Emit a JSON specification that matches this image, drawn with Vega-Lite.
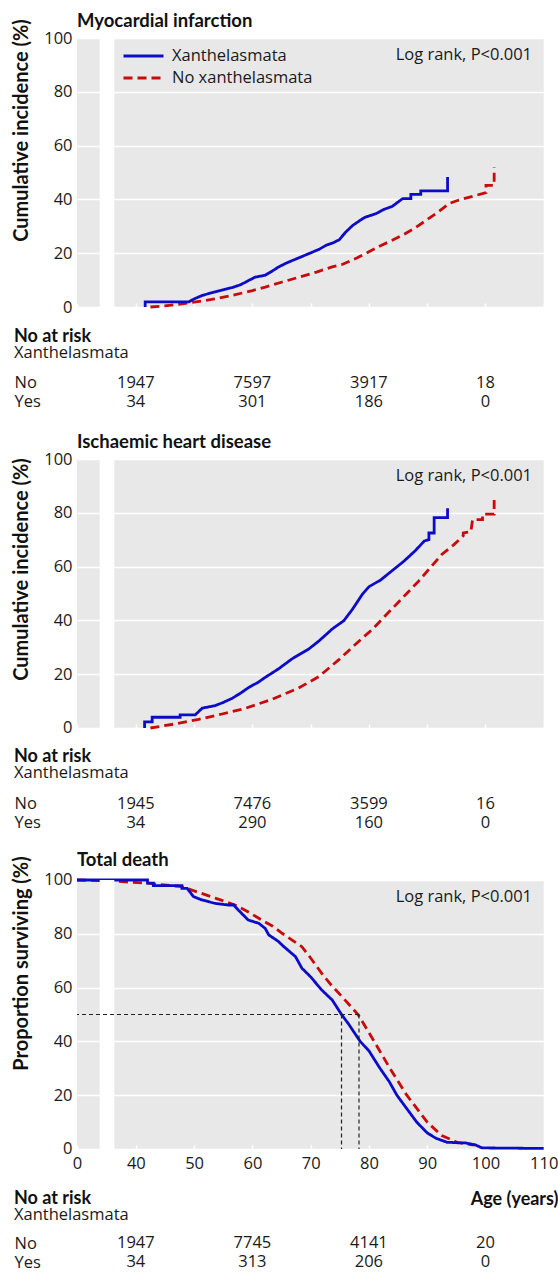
{
 "$schema": "https://vega.github.io/schema/vega-lite/v6.json",
 "padding": {"left": 11, "top": 12, "right": 0, "bottom": 0},
 "background": "white",
 "bounds": "flush",
 "spacing": 10,
 "config": {
  "font": "Open Sans",
  "view": {"stroke": null},
  "axis": {"labelFont": "Open Sans", "labelColor": "#1a1a1a", "labelFontSize": 16.5, "titleColor": "#111", "labelFlush": false},
  "title": {"font": "Lato", "fontWeight": "bold", "fontSize": 18.5, "color": "#111", "anchor": "start"}
 },
 "datasets": {
  "mi": [
   {"group":"No xanthelasmata","age":42.5,"pct":0},{"group":"No xanthelasmata","age":45.0,"pct":0.4},{"group":"No xanthelasmata","age":49.1,"pct":1.5},{"group":"No xanthelasmata","age":53.0,"pct":2.8},{"group":"No xanthelasmata","age":56.5,"pct":4.3},{"group":"No xanthelasmata","age":60.0,"pct":6.1},{"group":"No xanthelasmata","age":62.2,"pct":7.4},{"group":"No xanthelasmata","age":65.0,"pct":9.2},{"group":"No xanthelasmata","age":68.0,"pct":11.1},{"group":"No xanthelasmata","age":71.0,"pct":13.0},{"group":"No xanthelasmata","age":73.7,"pct":14.9},{"group":"No xanthelasmata","age":75.4,"pct":15.8},{"group":"No xanthelasmata","age":78.0,"pct":18.3},{"group":"No xanthelasmata","age":80.0,"pct":20.5},{"group":"No xanthelasmata","age":82.0,"pct":22.8},{"group":"No xanthelasmata","age":84.0,"pct":24.8},{"group":"No xanthelasmata","age":86.0,"pct":27.0},{"group":"No xanthelasmata","age":88.0,"pct":29.5},{"group":"No xanthelasmata","age":90.0,"pct":32.5},{"group":"No xanthelasmata","age":92.0,"pct":35.5},{"group":"No xanthelasmata","age":93.8,"pct":38.5},{"group":"No xanthelasmata","age":95.2,"pct":39.6},{"group":"No xanthelasmata","age":98.4,"pct":41.5},{"group":"No xanthelasmata","age":100.1,"pct":42.5},{"group":"No xanthelasmata","age":100.1,"pct":45.2},{"group":"No xanthelasmata","age":101.5,"pct":45.2},{"group":"No xanthelasmata","age":101.5,"pct":52.0},
   {"group":"Xanthelasmata","age":41.6,"pct":0},{"group":"Xanthelasmata","age":41.6,"pct":1.9},{"group":"Xanthelasmata","age":49.1,"pct":1.9},{"group":"Xanthelasmata","age":50.0,"pct":3.0},{"group":"Xanthelasmata","age":51.4,"pct":4.3},{"group":"Xanthelasmata","age":53.0,"pct":5.3},{"group":"Xanthelasmata","age":54.2,"pct":6.0},{"group":"Xanthelasmata","age":56.5,"pct":7.2},{"group":"Xanthelasmata","age":58.0,"pct":8.3},{"group":"Xanthelasmata","age":59.4,"pct":9.9},{"group":"Xanthelasmata","age":60.5,"pct":11.1},{"group":"Xanthelasmata","age":62.2,"pct":11.8},{"group":"Xanthelasmata","age":63.5,"pct":13.5},{"group":"Xanthelasmata","age":64.5,"pct":14.9},{"group":"Xanthelasmata","age":66.0,"pct":16.5},{"group":"Xanthelasmata","age":68.0,"pct":18.3},{"group":"Xanthelasmata","age":70.3,"pct":20.4},{"group":"Xanthelasmata","age":71.5,"pct":21.5},{"group":"Xanthelasmata","age":72.6,"pct":22.9},{"group":"Xanthelasmata","age":74.0,"pct":24.0},{"group":"Xanthelasmata","age":74.9,"pct":25.0},{"group":"Xanthelasmata","age":76.0,"pct":27.8},{"group":"Xanthelasmata","age":77.2,"pct":30.3},{"group":"Xanthelasmata","age":78.9,"pct":32.8},{"group":"Xanthelasmata","age":79.4,"pct":33.4},{"group":"Xanthelasmata","age":81.2,"pct":34.7},{"group":"Xanthelasmata","age":82.6,"pct":36.3},{"group":"Xanthelasmata","age":84.0,"pct":37.4},{"group":"Xanthelasmata","age":85.8,"pct":40.3},{"group":"Xanthelasmata","age":87.2,"pct":40.3},{"group":"Xanthelasmata","age":87.2,"pct":41.9},{"group":"Xanthelasmata","age":88.9,"pct":41.9},{"group":"Xanthelasmata","age":88.9,"pct":43.2},{"group":"Xanthelasmata","age":93.5,"pct":43.2},{"group":"Xanthelasmata","age":93.5,"pct":48.3}
  ],
  "ihd": [
   {"group":"No xanthelasmata","age":42.5,"pct":0},{"group":"No xanthelasmata","age":46.7,"pct":1.5},{"group":"No xanthelasmata","age":50.8,"pct":3.2},{"group":"No xanthelasmata","age":54.8,"pct":5.2},{"group":"No xanthelasmata","age":58.8,"pct":7.3},{"group":"No xanthelasmata","age":63.4,"pct":10.7},{"group":"No xanthelasmata","age":67.9,"pct":14.8},{"group":"No xanthelasmata","age":71.4,"pct":19.1},{"group":"No xanthelasmata","age":74.8,"pct":25.3},{"group":"No xanthelasmata","age":78.8,"pct":33.3},{"group":"No xanthelasmata","age":80.5,"pct":36.5},{"group":"No xanthelasmata","age":82.5,"pct":41.0},{"group":"No xanthelasmata","age":84.5,"pct":45.5},{"group":"No xanthelasmata","age":86.5,"pct":50.0},{"group":"No xanthelasmata","age":88.5,"pct":54.5},{"group":"No xanthelasmata","age":90.5,"pct":59.5},{"group":"No xanthelasmata","age":92.5,"pct":64.5},{"group":"No xanthelasmata","age":94.5,"pct":68.0},{"group":"No xanthelasmata","age":95.5,"pct":70.0},{"group":"No xanthelasmata","age":96.2,"pct":71.5},{"group":"No xanthelasmata","age":96.2,"pct":72.5},{"group":"No xanthelasmata","age":97.5,"pct":73.0},{"group":"No xanthelasmata","age":97.8,"pct":77.5},{"group":"No xanthelasmata","age":99.5,"pct":77.5},{"group":"No xanthelasmata","age":99.5,"pct":79.5},{"group":"No xanthelasmata","age":101.5,"pct":79.5},{"group":"No xanthelasmata","age":101.5,"pct":85.5},
   {"group":"Xanthelasmata","age":41.5,"pct":0},{"group":"Xanthelasmata","age":41.5,"pct":2.3},{"group":"Xanthelasmata","age":42.8,"pct":2.3},{"group":"Xanthelasmata","age":42.8,"pct":4.0},{"group":"Xanthelasmata","age":47.6,"pct":4.0},{"group":"Xanthelasmata","age":47.6,"pct":4.9},{"group":"Xanthelasmata","age":50.2,"pct":4.9},{"group":"Xanthelasmata","age":51.4,"pct":7.4},{"group":"Xanthelasmata","age":53.6,"pct":8.3},{"group":"Xanthelasmata","age":55.0,"pct":9.5},{"group":"Xanthelasmata","age":56.5,"pct":11.0},{"group":"Xanthelasmata","age":58.0,"pct":13.0},{"group":"Xanthelasmata","age":59.4,"pct":15.1},{"group":"Xanthelasmata","age":61.0,"pct":17.0},{"group":"Xanthelasmata","age":62.2,"pct":18.8},{"group":"Xanthelasmata","age":64.5,"pct":22.0},{"group":"Xanthelasmata","age":66.8,"pct":25.7},{"group":"Xanthelasmata","age":69.7,"pct":29.4},{"group":"Xanthelasmata","age":71.5,"pct":32.5},{"group":"Xanthelasmata","age":73.7,"pct":36.8},{"group":"Xanthelasmata","age":75.7,"pct":39.9},{"group":"Xanthelasmata","age":77.2,"pct":44.2},{"group":"Xanthelasmata","age":78.9,"pct":49.8},{"group":"Xanthelasmata","age":80.0,"pct":52.5},{"group":"Xanthelasmata","age":82.0,"pct":55.0},{"group":"Xanthelasmata","age":84.0,"pct":58.5},{"group":"Xanthelasmata","age":86.0,"pct":62.0},{"group":"Xanthelasmata","age":88.0,"pct":66.0},{"group":"Xanthelasmata","age":89.5,"pct":69.5},{"group":"Xanthelasmata","age":90.3,"pct":70.0},{"group":"Xanthelasmata","age":90.3,"pct":72.5},{"group":"Xanthelasmata","age":91.2,"pct":72.5},{"group":"Xanthelasmata","age":91.2,"pct":78.2},{"group":"Xanthelasmata","age":93.5,"pct":78.2},{"group":"Xanthelasmata","age":93.5,"pct":81.7}
  ],
  "death": [
   {"group":"No xanthelasmata","age":0,"pct":100},{"group":"No xanthelasmata","age":36.3,"pct":99.6},{"group":"No xanthelasmata","age":37.6,"pct":99.4},{"group":"No xanthelasmata","age":42.0,"pct":98.8},{"group":"No xanthelasmata","age":47.9,"pct":97.5},{"group":"No xanthelasmata","age":51.3,"pct":95.0},{"group":"No xanthelasmata","age":54.0,"pct":93.0},{"group":"No xanthelasmata","age":57.0,"pct":90.7},{"group":"No xanthelasmata","age":59.0,"pct":88.5},{"group":"No xanthelasmata","age":61.6,"pct":85.1},{"group":"No xanthelasmata","age":63.5,"pct":82.8},{"group":"No xanthelasmata","age":65.1,"pct":80.2},{"group":"No xanthelasmata","age":68.5,"pct":75.2},{"group":"No xanthelasmata","age":70.0,"pct":71.0},{"group":"No xanthelasmata","age":71.9,"pct":65.3},{"group":"No xanthelasmata","age":73.5,"pct":61.0},{"group":"No xanthelasmata","age":75.4,"pct":56.6},{"group":"No xanthelasmata","age":78.2,"pct":49.8},{"group":"No xanthelasmata","age":80.9,"pct":40.0},{"group":"No xanthelasmata","age":83.6,"pct":30.0},{"group":"No xanthelasmata","age":86.5,"pct":20.0},{"group":"No xanthelasmata","age":90.0,"pct":10.0},{"group":"No xanthelasmata","age":92.5,"pct":5.0},{"group":"No xanthelasmata","age":95.1,"pct":2.5},{"group":"No xanthelasmata","age":97.7,"pct":1.5},{"group":"No xanthelasmata","age":98.2,"pct":1.5},
   {"group":"Xanthelasmata","age":0,"pct":100},{"group":"Xanthelasmata","age":42.0,"pct":100},{"group":"Xanthelasmata","age":42.0,"pct":98.8},{"group":"Xanthelasmata","age":43.0,"pct":98.8},{"group":"Xanthelasmata","age":43.0,"pct":97.9},{"group":"Xanthelasmata","age":47.9,"pct":97.9},{"group":"Xanthelasmata","age":47.9,"pct":96.9},{"group":"Xanthelasmata","age":48.8,"pct":96.9},{"group":"Xanthelasmata","age":49.9,"pct":93.8},{"group":"Xanthelasmata","age":51.3,"pct":92.6},{"group":"Xanthelasmata","age":53.6,"pct":91.3},{"group":"Xanthelasmata","age":55.9,"pct":90.7},{"group":"Xanthelasmata","age":56.8,"pct":90.7},{"group":"Xanthelasmata","age":57.6,"pct":88.8},{"group":"Xanthelasmata","age":59.3,"pct":85.1},{"group":"Xanthelasmata","age":61.1,"pct":83.9},{"group":"Xanthelasmata","age":62.2,"pct":82.0},{"group":"Xanthelasmata","age":62.8,"pct":79.6},{"group":"Xanthelasmata","age":64.5,"pct":77.1},{"group":"Xanthelasmata","age":65.1,"pct":75.8},{"group":"Xanthelasmata","age":67.4,"pct":71.5},{"group":"Xanthelasmata","age":68.5,"pct":67.2},{"group":"Xanthelasmata","age":70.0,"pct":64.0},{"group":"Xanthelasmata","age":71.9,"pct":59.1},{"group":"Xanthelasmata","age":73.7,"pct":55.4},{"group":"Xanthelasmata","age":75.3,"pct":50.0},{"group":"Xanthelasmata","age":76.5,"pct":46.5},{"group":"Xanthelasmata","age":78.5,"pct":40.0},{"group":"Xanthelasmata","age":80.0,"pct":36.5},{"group":"Xanthelasmata","age":81.9,"pct":30.0},{"group":"Xanthelasmata","age":83.5,"pct":25.0},{"group":"Xanthelasmata","age":84.8,"pct":20.0},{"group":"Xanthelasmata","age":86.5,"pct":15.0},{"group":"Xanthelasmata","age":88.2,"pct":10.0},{"group":"Xanthelasmata","age":90.0,"pct":6.0},{"group":"Xanthelasmata","age":91.5,"pct":4.0},{"group":"Xanthelasmata","age":93.4,"pct":2.5},{"group":"Xanthelasmata","age":95.4,"pct":2.3},{"group":"Xanthelasmata","age":96.5,"pct":2.3},{"group":"Xanthelasmata","age":98.3,"pct":1.5},{"group":"Xanthelasmata","age":99.4,"pct":0.4},{"group":"Xanthelasmata","age":110.0,"pct":0.2}
  ],
  "medians": [{"group":"Xanthelasmata","age":75.3,"pct":50,"base":0,"start":0},{"group":"No xanthelasmata","age":78.3,"pct":50,"base":0,"start":0}],
  "risk": [
   {"panel":"mi","row":"No","age":40,"n":"1947"},{"panel":"mi","row":"No","age":60,"n":"7597"},{"panel":"mi","row":"No","age":80,"n":"3917"},{"panel":"mi","row":"No","age":100,"n":"18"},
   {"panel":"mi","row":"Yes","age":40,"n":"34"},{"panel":"mi","row":"Yes","age":60,"n":"301"},{"panel":"mi","row":"Yes","age":80,"n":"186"},{"panel":"mi","row":"Yes","age":100,"n":"0"},
   {"panel":"ihd","row":"No","age":40,"n":"1945"},{"panel":"ihd","row":"No","age":60,"n":"7476"},{"panel":"ihd","row":"No","age":80,"n":"3599"},{"panel":"ihd","row":"No","age":100,"n":"16"},
   {"panel":"ihd","row":"Yes","age":40,"n":"34"},{"panel":"ihd","row":"Yes","age":60,"n":"290"},{"panel":"ihd","row":"Yes","age":80,"n":"160"},{"panel":"ihd","row":"Yes","age":100,"n":"0"},
   {"panel":"death","row":"No","age":40,"n":"1947"},{"panel":"death","row":"No","age":60,"n":"7745"},{"panel":"death","row":"No","age":80,"n":"4141"},{"panel":"death","row":"No","age":100,"n":"20"},
   {"panel":"death","row":"Yes","age":40,"n":"34"},{"panel":"death","row":"Yes","age":60,"n":"313"},{"panel":"death","row":"Yes","age":80,"n":"206"},{"panel":"death","row":"Yes","age":100,"n":"0"}
  ],
  "breaks": [{"from": 4, "to": 36.3, "lo": 0, "hi": 100}],
  "logrank": [{"label": "Log rank, P<0.001", "age": 108, "pct": 93.5}]
 },
 "vconcat": [
  {
   "width": 466.7, "height": 269,
   "view": {"fill": "#e8e8e8", "stroke": null},
   "title": {"text": "Myocardial infarction", "frame": "group", "offset": 0, "dy": 12},
   "layer": [
    {"data": {"name": "mi"},
     "mark": {"type": "line", "strokeWidth": 2.8},
     "encoding": {
      "x": {"field": "age", "type": "quantitative", "scale": {"domain": [0, 4, 36.3, 110], "range": [0, 22.7, 37.3, 466.7], "nice": false, "zero": false},
            "axis": {"values": [0,40,50,60,70,80,90,100,110], "labels": false, "domain": false, "grid": false, "ticks": true, "tickColor": "white", "tickWidth": 1.5, "tickSize": -4, "title": null}},
      "y": {"field": "pct", "type": "quantitative", "scale": {"domain": [0, 100], "nice": false},
            "axis": {"values": [0,20,40,60,80,100], "grid": true, "gridColor": "white", "gridWidth": 1.6, "domain": false, "ticks": false, "labelPadding": 5,
                     "title": "Cumulative incidence (%)", "titleFont": "Lato", "titleFontSize": 20, "titleFontWeight": "bold", "titleAngle": -90, "titleX": -55, "titleY": 92, "titleAlign": "center", "titleBaseline": "middle"}},
      "color": {"field": "group", "type": "nominal", "scale": {"domain": ["Xanthelasmata", "No xanthelasmata"], "range": ["#0c0cc8", "#c80a0a"]},
                "legend": {"orient": "none", "legendX": 45, "legendY": 7, "title": null, "symbolType": "stroke", "symbolSize": 1600, "symbolStrokeWidth": 2.8, "labelFontSize": 16.5, "labelFont": "Open Sans", "labelColor": "#1a1a1a", "labelOffset": 7, "rowPadding": 0, "clipHeight": 22}},
      "strokeDash": {"field": "group", "type": "nominal", "scale": {"domain": ["Xanthelasmata", "No xanthelasmata"], "range": [[1, 0], [9, 5]]},
                "legend": {"orient": "none", "legendX": 45, "legendY": 7, "title": null, "symbolType": "stroke", "symbolSize": 1600, "symbolStrokeWidth": 2.8, "labelFontSize": 16.5, "labelFont": "Open Sans", "labelColor": "#1a1a1a", "labelOffset": 7, "rowPadding": 0, "clipHeight": 22}}
     }},
    {"data": {"name": "breaks"},
     "mark": {"type": "rect", "fill": "white"},
     "encoding": {"x": {"field": "from", "type": "quantitative"}, "x2": {"field": "to"}, "y": {"field": "lo", "type": "quantitative"}, "y2": {"field": "hi"}}},
    {"data": {"name": "logrank"},
     "mark": {"type": "text", "align": "right", "baseline": "middle", "fontSize": 16.5, "font": "Open Sans", "color": "#1a1a1a"},
     "encoding": {"x": {"field": "age", "type": "quantitative"}, "y": {"field": "pct", "type": "quantitative"}, "text": {"field": "label"}}}
   ]
  },
  {
   "width": 466.7, "height": 132,
   "data": {"name": "risk"},
   "transform": [{"filter": "datum.panel == 'mi'"}],
   "title": {"text": "No at risk", "subtitle": "Xanthelasmata", "frame": "bounds", "offset": -44, "fontSize": 18, "subtitleFont": "Open Sans", "subtitleFontSize": 16.5, "subtitleColor": "#1a1a1a", "subtitlePadding": -1},
   "mark": {"type": "text", "fontSize": 16.5, "font": "Open Sans", "color": "#1a1a1a", "baseline": "middle"},
   "encoding": {
    "x": {"field": "age", "type": "quantitative", "scale": {"domain": [0, 4, 36.3, 110], "range": [0, 22.7, 37.3, 466.7], "nice": false, "zero": false}, "axis": null},
    "y": {"field": "row", "type": "ordinal", "scale": {"type": "point", "domain": ["No", "Yes"], "range": [65.5, 84.5], "padding": 0},
          "axis": {"title": null, "domain": false, "ticks": false, "grid": false, "labelAlign": "left", "labelBaseline": "middle", "labelPadding": 63}},
    "text": {"field": "n"}
   }
  },
  {
   "width": 466.7, "height": 269,
   "view": {"fill": "#e8e8e8", "stroke": null},
   "title": {"text": "Ischaemic heart disease", "frame": "group", "offset": 0},
   "layer": [
    {"data": {"name": "ihd"},
     "mark": {"type": "line", "strokeWidth": 2.8},
     "encoding": {
      "x": {"field": "age", "type": "quantitative", "scale": {"domain": [0, 4, 36.3, 110], "range": [0, 22.7, 37.3, 466.7], "nice": false, "zero": false},
            "axis": {"values": [0,40,50,60,70,80,90,100,110], "labels": false, "domain": false, "grid": false, "ticks": true, "tickColor": "white", "tickWidth": 1.5, "tickSize": -4, "title": null}},
      "y": {"field": "pct", "type": "quantitative", "scale": {"domain": [0, 100], "nice": false},
            "axis": {"values": [0,20,40,60,80,100], "grid": true, "gridColor": "white", "gridWidth": 1.6, "domain": false, "ticks": false, "labelPadding": 5,
                     "title": "Cumulative incidence (%)", "titleFont": "Lato", "titleFontSize": 20, "titleFontWeight": "bold", "titleAngle": -90, "titleX": -55, "titleY": 110, "titleAlign": "center", "titleBaseline": "middle"}},
      "color": {"field": "group", "type": "nominal", "scale": {"domain": ["Xanthelasmata", "No xanthelasmata"], "range": ["#0c0cc8", "#c80a0a"]}, "legend": null},
      "strokeDash": {"field": "group", "type": "nominal", "scale": {"domain": ["Xanthelasmata", "No xanthelasmata"], "range": [[1, 0], [9, 5]]}, "legend": null}
     }},
    {"data": {"name": "breaks"},
     "mark": {"type": "rect", "fill": "white"},
     "encoding": {"x": {"field": "from", "type": "quantitative"}, "x2": {"field": "to"}, "y": {"field": "lo", "type": "quantitative"}, "y2": {"field": "hi"}}},
    {"data": {"name": "logrank"},
     "mark": {"type": "text", "align": "right", "baseline": "middle", "fontSize": 16.5, "font": "Open Sans", "color": "#1a1a1a"},
     "encoding": {"x": {"field": "age", "type": "quantitative"}, "y": {"field": "pct", "type": "quantitative"}, "text": {"field": "label"}}}
   ]
  },
  {
   "width": 466.7, "height": 132,
   "data": {"name": "risk"},
   "transform": [{"filter": "datum.panel == 'ihd'"}],
   "title": {"text": "No at risk", "subtitle": "Xanthelasmata", "frame": "bounds", "offset": -44, "fontSize": 18, "subtitleFont": "Open Sans", "subtitleFontSize": 16.5, "subtitleColor": "#1a1a1a", "subtitlePadding": -1},
   "mark": {"type": "text", "fontSize": 16.5, "font": "Open Sans", "color": "#1a1a1a", "baseline": "middle"},
   "encoding": {
    "x": {"field": "age", "type": "quantitative", "scale": {"domain": [0, 4, 36.3, 110], "range": [0, 22.7, 37.3, 466.7], "nice": false, "zero": false}, "axis": null},
    "y": {"field": "row", "type": "ordinal", "scale": {"type": "point", "domain": ["No", "Yes"], "range": [66, 85], "padding": 0},
          "axis": {"title": null, "domain": false, "ticks": false, "grid": false, "labelAlign": "left", "labelBaseline": "middle", "labelPadding": 63}},
    "text": {"field": "n"}
   }
  },
  {
   "width": 466.7, "height": 269,
   "view": {"fill": "#e8e8e8", "stroke": null},
   "title": {"text": "Total death", "frame": "group", "offset": 0, "dy": 14},
   "layer": [
    {"data": {"name": "death"},
     "mark": {"type": "line", "strokeWidth": 2.8},
     "encoding": {
      "x": {"field": "age", "type": "quantitative", "scale": {"domain": [0, 4, 36.3, 110], "range": [0, 22.7, 37.3, 466.7], "nice": false, "zero": false},
            "axis": {"values": [0,40,50,60,70,80,90,100,110], "labels": true, "labelPadding": 11, "domain": false, "grid": false, "ticks": true, "tickColor": "white", "tickWidth": 1.5, "tickSize": -4,
                     "title": "Age (years)", "titleFont": "Lato", "titleFontSize": 18, "titleFontWeight": "bold", "titleAnchor": "end", "titleAlign": "right", "titleBaseline": "middle", "titleX": 481, "titleY": 51}},
      "y": {"field": "pct", "type": "quantitative", "scale": {"domain": [0, 100], "nice": false},
            "axis": {"values": [0,20,40,60,80,100], "grid": true, "gridColor": "white", "gridWidth": 1.6, "domain": false, "ticks": false, "labelPadding": 5,
                     "title": "Proportion surviving (%)", "titleFont": "Lato", "titleFontSize": 20, "titleFontWeight": "bold", "titleAngle": -90, "titleX": -55, "titleY": 83, "titleAlign": "center", "titleBaseline": "middle"}},
      "color": {"field": "group", "type": "nominal", "scale": {"domain": ["Xanthelasmata", "No xanthelasmata"], "range": ["#0c0cc8", "#c80a0a"]}, "legend": null},
      "strokeDash": {"field": "group", "type": "nominal", "scale": {"domain": ["Xanthelasmata", "No xanthelasmata"], "range": [[1, 0], [9, 5]]}, "legend": null}
     }},
    {"data": {"name": "breaks"},
     "mark": {"type": "rect", "fill": "white"},
     "encoding": {"x": {"field": "from", "type": "quantitative"}, "x2": {"field": "to"}, "y": {"field": "lo", "type": "quantitative"}, "y2": {"field": "hi"}}},
    {"data": {"name": "medians"},
     "mark": {"type": "rule", "color": "#222", "strokeWidth": 1.2, "strokeDash": [4, 3]},
     "encoding": {"x": {"field": "age", "type": "quantitative"}, "y": {"field": "pct", "type": "quantitative"}, "y2": {"field": "base"}}},
    {"data": {"name": "medians"},
     "transform": [{"filter": "datum.group == 'No xanthelasmata'"}],
     "mark": {"type": "rule", "color": "#222", "strokeWidth": 1.2, "strokeDash": [4, 3]},
     "encoding": {"x": {"field": "age", "type": "quantitative"}, "x2": {"field": "start"}, "y": {"field": "pct", "type": "quantitative"}}},
    {"data": {"name": "logrank"},
     "mark": {"type": "text", "align": "right", "baseline": "middle", "fontSize": 16.5, "font": "Open Sans", "color": "#1a1a1a"},
     "encoding": {"x": {"field": "age", "type": "quantitative"}, "y": {"field": "pct", "type": "quantitative"}, "text": {"field": "label"}}}
   ]
  },
  {
   "width": 466.7, "height": 112,
   "data": {"name": "risk"},
   "transform": [{"filter": "datum.panel == 'death'"}],
   "title": {"text": "No at risk", "subtitle": "Xanthelasmata", "frame": "bounds", "offset": -65, "fontSize": 18, "subtitleFont": "Open Sans", "subtitleFontSize": 16.5, "subtitleColor": "#1a1a1a", "subtitlePadding": -1},
   "mark": {"type": "text", "fontSize": 16.5, "font": "Open Sans", "color": "#1a1a1a", "baseline": "middle"},
   "encoding": {
    "x": {"field": "age", "type": "quantitative", "scale": {"domain": [0, 4, 36.3, 110], "range": [0, 22.7, 37.3, 466.7], "nice": false, "zero": false}, "axis": null},
    "y": {"field": "row", "type": "ordinal", "scale": {"type": "point", "domain": ["No", "Yes"], "range": [84.5, 103.5], "padding": 0},
          "axis": {"title": null, "domain": false, "ticks": false, "grid": false, "labelAlign": "left", "labelBaseline": "middle", "labelPadding": 63}},
    "text": {"field": "n"}
   }
  }
 ]
}
